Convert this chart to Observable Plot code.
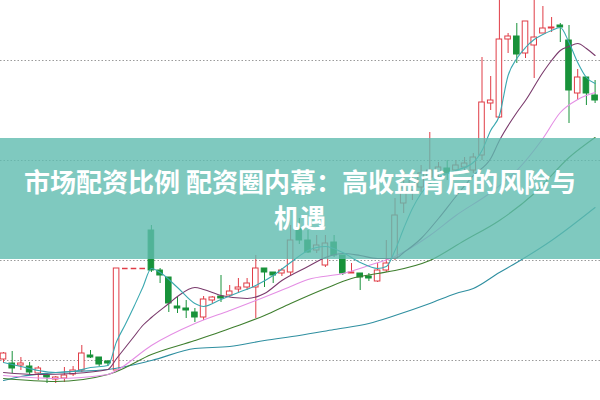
<!DOCTYPE html>
<html><head><meta charset="utf-8">
<script src="https://cdn.jsdelivr.net/npm/d3@7"></script>
<script src="https://cdn.jsdelivr.net/npm/@observablehq/plot@0.6"></script>
<style>
body{margin:0;background:#fff}
#wrap{position:relative;width:600px;height:400px;overflow:hidden}
#banner{position:absolute;left:0;top:138px;width:600px;height:121px;background:rgba(95,187,175,0.8);display:flex;flex-direction:column;justify-content:center;align-items:center;color:#fff;font-family:"Noto Sans CJK SC","Noto Sans",sans-serif;font-weight:700;font-size:26px;line-height:36px;text-align:center;white-space:nowrap}
</style></head>
<body>
<div id="wrap"><div id="chart"></div>
<div id="banner"><div>市场配资比例 配资圈内幕：高收益背后的风险与</div><div>机遇</div></div></div>
<script>
// Candle values (price units), one entry per trading day
const openP  = [10.05,9.85,9.75,9.70,9.35,9.25,9.05,9.10,9.30,9.50,10.25,10.15,9.95,9.50,14.60,14.60,14.60,16.50,14.50,14.15,12.70,12.60,12.40,12.15,13.00,13.20,13.25,13.55,13.65,13.65,14.60,14.40,14.35,14.40,16.60,16.00,15.50,14.75,15.90,15.25,14.35,14.35,14.20,13.95,14.50,15.10,17.85,18.50,18.65,19.15,19.35,19.60,19.50,19.65,19.50,20.25,22.85,22.15,26.05,26.20,25.35,25.75,26.35,26.60,26.75,26.00,23.35,24.15,23.25];
const closeP = [10.35,9.60,9.85,9.40,9.60,9.15,9.15,9.25,9.50,10.35,10.15,9.80,9.85,14.60,14.60,14.60,14.60,14.50,14.25,12.85,12.60,12.50,12.15,13.05,13.15,13.10,13.45,13.65,13.85,14.60,14.40,14.25,14.50,16.00,16.00,15.40,15.75,15.85,15.25,14.35,14.40,14.15,14.10,14.50,14.85,17.25,18.60,19.00,19.35,19.50,19.65,19.35,19.75,19.85,20.15,22.90,23.00,26.05,26.20,25.30,26.95,26.15,26.60,26.65,26.65,23.50,24.15,23.35,23.00];
const highP  = [10.40,10.45,10.15,9.90,9.70,9.35,9.20,9.65,9.70,10.75,10.50,10.15,10.00,14.60,14.60,14.60,14.60,16.75,14.60,14.15,13.15,13.00,12.60,13.20,13.20,14.25,13.75,14.10,14.10,15.25,14.60,14.40,14.60,16.75,17.10,16.50,16.25,16.25,16.25,15.25,14.85,14.35,14.35,14.85,16.00,18.10,19.35,19.50,19.75,21.40,19.90,20.00,20.00,20.15,20.35,25.15,24.20,28.25,26.35,26.85,26.95,28.25,27.70,27.15,26.85,26.75,24.55,24.15,24.00];
const lowP   = [9.85,9.35,9.50,9.25,9.00,8.85,8.85,8.90,9.20,9.40,10.10,9.70,9.70,9.50,14.60,14.60,14.60,14.40,13.85,12.40,12.35,12.10,11.90,12.00,12.85,12.90,13.15,13.40,13.50,12.10,13.65,13.85,14.20,14.25,15.80,15.35,15.35,14.65,15.15,14.25,14.35,13.50,13.95,13.90,14.40,15.00,17.35,18.00,18.40,19.00,19.15,19.00,19.25,19.35,19.35,20.00,22.50,22.10,25.35,24.85,25.10,24.10,26.35,26.40,25.90,21.85,23.00,22.75,22.85];

// Moving-average lines at selected day indices
const ma5Day  = [0,2,4,6,8,10,12,13,14,15,16,17,18,20,22,23,25,27,29,31,33,35,37,39,41,43,44,45,46,47,48,50,52,54,55,56,57,58,59,60,61,62,63,64,65,66,67,68];
const ma5Val  = [9.90,9.70,9.50,9.40,9.45,9.65,9.75,10.95,11.80,12.70,13.65,14.60,14.40,13.65,12.85,12.70,13.05,13.40,13.75,14.25,14.90,15.50,15.70,15.40,14.90,14.60,14.70,15.50,16.60,17.60,18.35,19.15,19.50,19.90,20.50,21.50,22.25,24.25,25.10,25.65,26.05,26.30,26.50,26.65,25.90,24.90,24.15,23.85];
const ma10Day = [0,4,8,12,13,14,15,16,17,19,20,22,23,25,28,30,32,35,37,39,41,43,45,46,48,50,52,54,56,57,59,60,62,63,64,65,66,67,68];
const ma10Val = [9.40,9.30,9.35,9.55,10.10,10.65,11.20,11.75,12.15,12.85,13.20,13.65,13.55,13.25,13.10,13.35,14.00,14.70,15.15,15.35,15.25,15.10,15.10,15.40,16.10,17.10,18.20,19.25,20.10,21.00,22.40,23.00,24.40,25.00,25.50,25.70,25.85,25.60,25.25];
const ma20Day = [0,6,12,13,17,22,26,29,33,35,39,42,45,49,52,56,59,62,64,66,68];
const ma20Val = [9.25,9.10,9.30,9.50,10.75,11.85,12.50,13.00,13.70,14.05,14.35,14.75,15.20,16.25,17.25,18.40,19.50,21.10,22.40,23.05,23.40];
const ma30Day = [0,6,12,13,17,22,27,30,33,37,40,43,45,49,53,57,61,65,68];
const ma30Val = [9.10,8.95,9.30,9.45,10.30,11.00,11.75,12.25,12.85,13.60,14.10,14.35,14.50,15.00,16.00,17.00,18.35,20.15,21.15];
const ma60Day = [0,2,6,12,17,22,26,30,34,38,42,45,49,52,54,57,59,63,68];
const ma60Val = [9.00,9.20,9.40,9.55,10.00,10.60,10.70,11.00,11.25,11.55,11.85,12.25,12.85,13.35,13.60,14.40,14.90,16.00,17.65];

const gridLevels = [10, 15, 20, 25];

const RED = "#e03c46", GREEN = "#18923a";
const candles = openP.map((o, i) => ({i, o, c: closeP[i], h: highP[i], l: lowP[i]}));
const isUp = d => d.c >= d.o;
const flat = candles.filter(d => Math.abs(d.o - d.c) < 1e-6);
const bodies = candles.filter(d => Math.abs(d.o - d.c) >= 1e-6);
const series = (days, vals) => days.map((x, k) => ({x, y: vals[k]}));
const HALF = 0.32;

const chart = Plot.plot({
  width: 600, height: 400, margin: 0,
  x: {domain: [0, 68], range: [3, 594.6], axis: null},
  y: {domain: [8, 28], range: [400, 0], axis: null},
  marks: [
    Plot.ruleY(gridLevels, {stroke: "#9a9a9a", strokeWidth: 1, strokeDasharray: "1.5,2"}),
    Plot.ruleX(candles, {x: "i", y1: "l", y2: "h", stroke: d => isUp(d) ? RED : GREEN, strokeWidth: 1}),
    Plot.rect(bodies, {x1: d => d.i - HALF, x2: d => d.i + HALF, y1: "o", y2: "c",
      fill: d => isUp(d) ? "#ffffff" : GREEN, stroke: d => isUp(d) ? RED : GREEN, strokeWidth: 1}),
    Plot.ruleY(flat, {y: "c", x1: d => d.i - HALF, x2: d => d.i + HALF, stroke: RED, strokeWidth: 1.5}),
    Plot.line(series(ma60Day, ma60Val), {x: "x", y: "y", stroke: "#2f8fa0", strokeWidth: 1.1, curve: "monotone-x"}),
    Plot.line(series(ma30Day, ma30Val), {x: "x", y: "y", stroke: "#3f7f2f", strokeWidth: 1.1, curve: "monotone-x"}),
    Plot.line(series(ma20Day, ma20Val), {x: "x", y: "y", stroke: "#e48ee4", strokeWidth: 1.1, curve: "monotone-x"}),
    Plot.line(series(ma10Day, ma10Val), {x: "x", y: "y", stroke: "#7a3a6c", strokeWidth: 1.1, curve: "monotone-x"}),
    Plot.line(series(ma5Day, ma5Val), {x: "x", y: "y", stroke: "#3aa8b0", strokeWidth: 1.1, curve: "monotone-x"})
  ]
});
document.getElementById("chart").appendChild(chart);
</script>
</body></html>
